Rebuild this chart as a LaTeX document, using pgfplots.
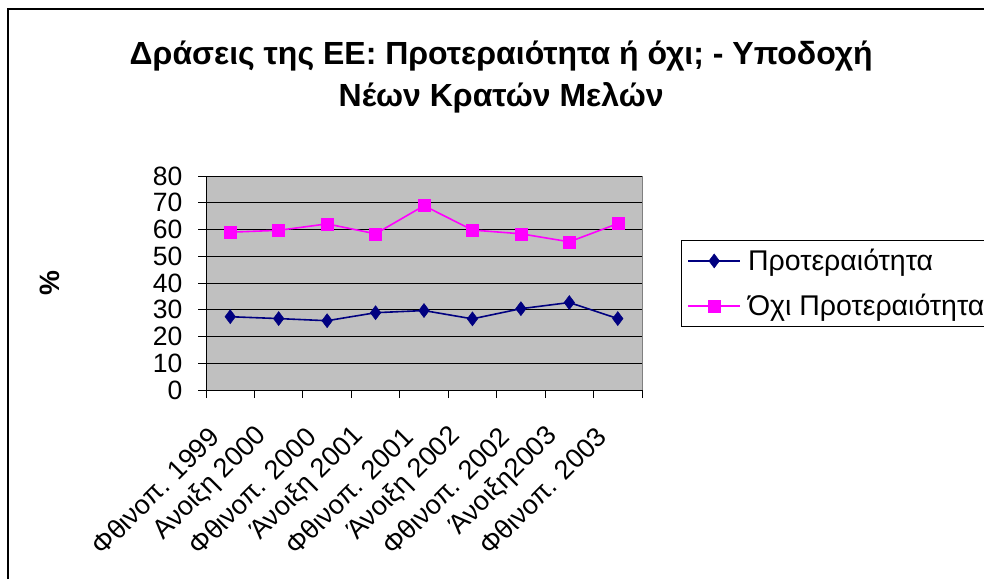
\documentclass[border=0pt]{standalone}
\usepackage{pgfplots}
\pgfplotsset{compat=1.18}
\usepackage{fontspec}
\setmainfont{Liberation Sans}
\definecolor{plotbg}{HTML}{C0C0C0}
\definecolor{navyc}{HTML}{000080}
\definecolor{magc}{HTML}{FF00FF}
\pgfplotstableread{
x y
1 27.4
2 26.7
3 25.9
4 28.9
5 29.7
6 26.6
7 30.4
8 32.7
9 26.7
}\protdata
\pgfplotstableread{
x y
1 59.0
2 59.7
3 62.1
4 58.4
5 68.9
6 59.8
7 58.4
8 55.4
9 62.2
}\ochidata
\begin{document}
\begin{tikzpicture}[x=1pt,y=1pt]
\useasboundingbox (0,0) rectangle (984,579);
\fill[white] (0,0) rectangle (984,579);
\draw[black, line width=1.2pt] (8,0) -- (8,570) -- (984,570);
\begin{axis}[
  at={(206pt,189pt)}, anchor=south west,
  scale only axis, width=436pt, height=214pt,
  xmin=0.5, xmax=9.5, ymin=0, ymax=80,
  axis lines=left, axis line style={-, black, line width=0.9pt},
  axis background/.style={fill=plotbg, draw=gray, line width=0.9pt},
  xtick={1,...,9},
  major x tick style={draw=none},
  minor xtick={0.5,1.5,...,9.5},
  minor x tick style={black, line width=0.8pt},
  minor tick length=8pt,
  xticklabels={Φθινοπ. 1999, Ανοιξη 2000, Φθινοπ. 2000, Άνοιξη 2001, Φθινοπ. 2001, Άνοιξη 2002, Φθινοπ. 2002, Άνοιξη2003, Φθινοπ. 2003},
  xticklabel style={font=\fontsize{27}{27}\selectfont, inner sep=0pt, xshift=-16pt, yshift=-34pt, rotate=45, anchor=east},
  ytick={0,10,...,80},
  ymajorgrids, major grid style={black, line width=0.8pt},
  major y tick style={black, line width=0.8pt},
  tick align=outside, major tick length=8pt,
  yticklabel style={font=\fontsize{26.5}{26.5}\selectfont, xshift=-12pt},
  /pgf/number format/assume math mode=true,
  ylabel={\textbf{\%}},
  ylabel style={font=\fontsize{28}{28}\selectfont, at={(axis description cs:-0.358,0.5)}, anchor=center, rotate=0},
  title={\textbf{Δράσεις της ΕΕ: Προτεραιότητα ή όχι; - Υποδοχή}\\\textbf{Νέων Κρατών Μελών}},
  title style={font=\fontsize{32}{42}\selectfont, align=center, at={(axis description cs:0.677,1.435)}, anchor=center},
  legend style={at={(rel axis cs:1.0894,0.701)}, anchor=north west, draw=black, line width=0.9pt, fill=white,
    font=\fontsize{28.5}{28.5}\selectfont, row sep=18pt, column sep=5pt, inner xsep=6pt, inner ysep=7pt},
  legend cell align=left,
  legend image code/.code={\draw[mark repeat=2,mark phase=2] plot coordinates {(0pt,0pt)(26pt,0pt)(52pt,0pt)};},
]
\addplot[navyc, line width=1.6pt, mark=diamond*, mark size=7pt, mark options={fill=navyc, draw=navyc, line width=0.5pt}] table[x=x,y=y] {\protdata};
\addlegendentry{Προτεραιότητα}
\addplot[magc, line width=1.6pt, mark=square*, mark size=6pt, mark options={fill=magc, draw=magc, line width=0.5pt}] table[x=x,y=y] {\ochidata};
\addlegendentry{Όχι Προτεραιότητα}
\end{axis}
\end{tikzpicture}
\end{document}
